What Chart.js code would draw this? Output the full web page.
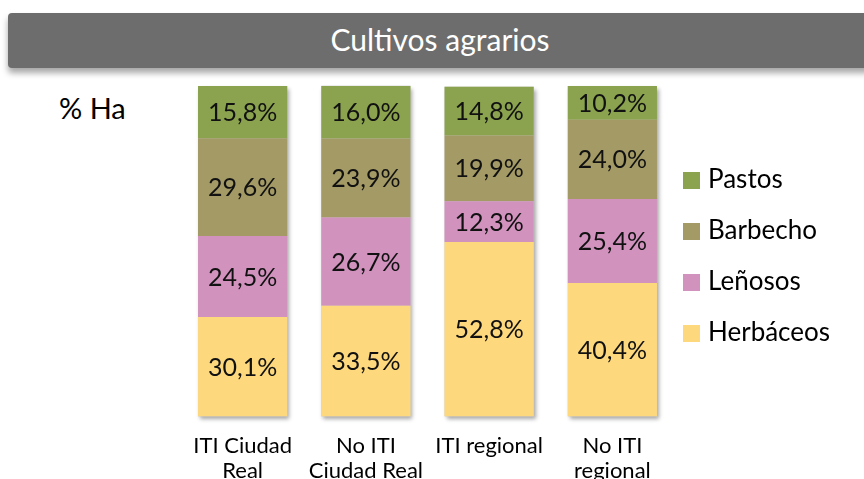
<!DOCTYPE html>
<html><head><meta charset="utf-8">
<script src="https://cdn.jsdelivr.net/npm/chart.js@4.4.1/dist/chart.umd.min.js"></script>
<style>
html,body{margin:0;padding:0;background:#fff;overflow:hidden;width:864px;height:479px;font-family:Lato,"Noto Sans",sans-serif;}
#title{position:absolute;left:8px;top:13px;width:864px;height:55px;background:#6d6d6d;border-radius:4px;box-shadow:0 5px 6px rgba(0,0,0,0.35);color:#fff;font-size:30px;line-height:52px;text-align:center;}
#unit{position:absolute;left:59px;top:90px;font-size:29px;color:#000;}
#wrap{position:absolute;left:0;top:0;width:864px;height:493px;}
#legend{position:absolute;left:683px;top:0;}
.li{position:absolute;left:0;white-space:nowrap;font-size:26px;color:#000;}
.sw{display:inline-block;width:17px;height:17px;margin-right:8px;vertical-align:-1px;}
</style></head>
<body>
<div id="title">Cultivos agrarios</div>
<div id="unit">% Ha</div>
<div id="wrap"><canvas id="c" width="864" height="493"></canvas></div>
<div id="legend"></div>
<script>
const categories = [['ITI Ciudad','Real'],['No ITI','Ciudad Real'],['ITI regional'],['No ITI','regional']];
const herbaceos = [30.1, 33.5, 52.8, 40.4];
const lenosos   = [24.5, 26.7, 12.3, 25.4];
const barbecho  = [29.6, 23.9, 19.9, 24.0];
const pastos    = [15.8, 16.0, 14.8, 10.2];
const seriesNames  = ['Herbáceos','Leñosos','Barbecho','Pastos'];
const seriesColors = ['#FDD87D','#D193BE','#A39A65','#8BA34E'];
const seriesData = [herbaceos, lenosos, barbecho, pastos];

const shadowPlugin = {
  id:'colShadow',
  beforeDatasetsDraw(chart){
    const ctx = chart.ctx;
    const meta0 = chart.getDatasetMeta(0);
    const metaTop = chart.getDatasetMeta(chart.data.datasets.length-1);
    ctx.save();
    ctx.shadowColor='rgba(0,0,0,0.35)';
    ctx.shadowBlur=4; ctx.shadowOffsetX=2; ctx.shadowOffsetY=3;
    ctx.fillStyle='#ccc';
    meta0.data.forEach((bar,i)=>{
      const p = bar.getProps(['x','width','base'],true);
      const top = metaTop.data[i].getProps(['y'],true).y;
      ctx.fillRect(p.x-p.width/2, top, p.width, p.base-top);
    });
    ctx.restore();
  }
};
const labelPlugin = {
  id:'segLabels',
  afterDatasetsDraw(chart){
    const ctx = chart.ctx;
    ctx.save();
    ctx.font = '25px Lato, "Noto Sans", sans-serif';
    ctx.fillStyle = '#111';
    ctx.textAlign='center'; ctx.textBaseline='middle';
    chart.data.datasets.forEach((ds,di)=>{
      chart.getDatasetMeta(di).data.forEach((bar,i)=>{
        const p = bar.getProps(['x','y','base'],true);
        ctx.fillText(ds.data[i].toFixed(1).replace('.',',')+'%', p.x, (p.y+p.base)/2+1);
      });
    });
    ctx.restore();
  }
};

new Chart(document.getElementById('c'),{
  type:'bar',
  data:{labels:categories, datasets: seriesNames.map((n,i)=>({label:n,data:seriesData[i],backgroundColor:seriesColors[i],borderWidth:0,categoryPercentage:1,barPercentage:0.7236}))},
  options:{
    responsive:false, animation:false, devicePixelRatio:1,
    layout:{padding:{left:181,right:190,top:86,bottom:0}},
    plugins:{legend:{display:false},tooltip:{enabled:false}},
    scales:{
      x:{stacked:true,grid:{display:false},border:{display:false},
         ticks:{color:'#000',padding:9,font:{family:'Lato, "Noto Sans", sans-serif',size:22,lineHeight:1.15},maxRotation:0,autoSkip:false}},
      y:{stacked:true,display:false,min:0,max:100}
    }
  },
  plugins:[shadowPlugin,labelPlugin]
});

const lg = document.getElementById('legend');
const legendY = [178,229,280,331];
for(let k=0;k<4;k++){
  const i = 3-k;
  const d = document.createElement('div');
  d.className='li';
  d.style.top=(legendY[k]-16)+'px';
  d.innerHTML='<span class="sw" style="background:'+seriesColors[i]+'"></span>'+seriesNames[i];
  lg.appendChild(d);
}
</script>
</body></html>
